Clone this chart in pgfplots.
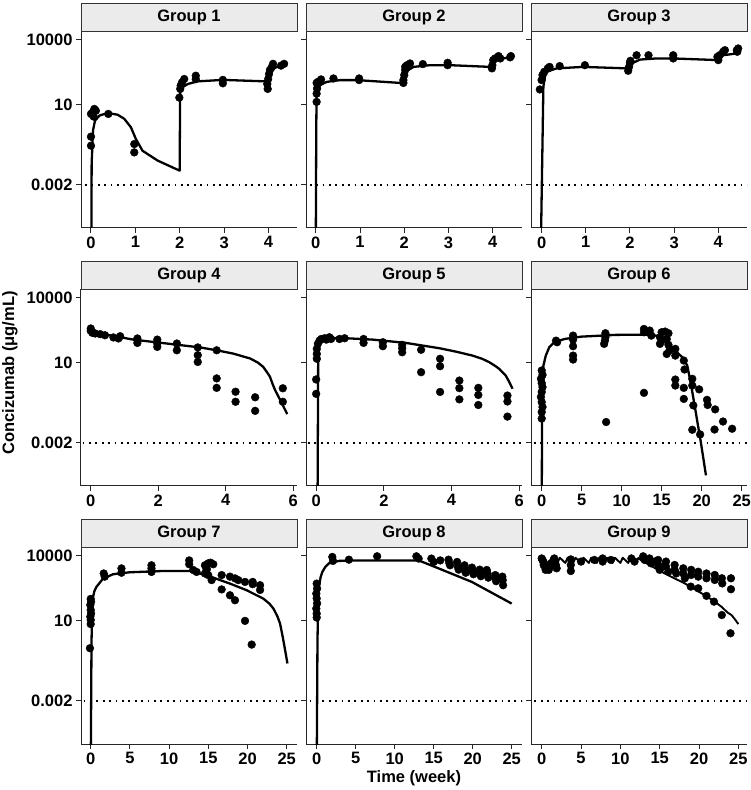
\documentclass[border=0pt]{standalone}
\usepackage{pgfplots}
\pgfplotsset{compat=1.18}
\usepackage{fontspec}
\setmainfont{Liberation Sans}
\definecolor{stripfill}{HTML}{EBEBEB}
\definecolor{stripline}{HTML}{333333}
\pgfplotsset{
  pts/.style={only marks, mark=*, mark size=3.9pt, mark options={draw=black, fill=black}},
  fitline/.style={black, line width=2.3pt, no marks, line join=round},
  lloq/.style={black, line width=1.8pt, dash pattern=on 1.8pt off 4.6pt, no marks},
}
\newcommand{\beginpanel}[1]{%
\begin{axis}[scale only axis, width=216pt, height=197pt, anchor=south west,
    ymode=log, ymin=2e-5, ymax=2.5e4,
    ytick={0.002,10,10000}, yticklabels={0.002,10,10000},
    yminorticks=false, xminorticks=false,
    axis x line*=bottom, axis y line*=left,
    axis line style={line width=1pt, black!85},
    tick align=outside, major tick length=5pt,
    tick style={line width=1pt, black!85},
    ticklabel style={font=\bfseries\fontsize{16.5}{16.5}\selectfont, text=black},
    /pgf/number format/assume math mode=true,
    #1]}
\newcommand{\strip}[2]{%
  \draw[fill=stripfill, draw=stripline, line width=0.8pt] (#1.north west) rectangle ([yshift=27.5pt]#1.north east);
  \node[font=\bfseries\fontsize{16.5}{16.5}\selectfont] at ([yshift=13.8pt]#1.north) {#2};
}
\begin{document}
\begin{tikzpicture}
\useasboundingbox (0,0) rectangle (750pt,790pt);
% ---------------- Group 1
\beginpanel{name=g1, at={(81pt,562pt)}, xmin=-0.225, xmax=4.64, xtick={0,1,2,3,4}}
\addplot[lloq] coordinates {(-1,0.002) (30,0.002)};
\addplot[pts] table {
x y
0 0.126
0 0.33
0 3.7
0.04 4.4
0.06 2.8
0.075 6.3
0.11 5.2
0.39 3.7
0.975 0.15
0.975 0.062
1.99 21
2.01 53
2.02 75
2.05 106
2.1 152
2.36 215
2.36 150
2.97 138
2.97 96
3.98 53
3.97 89
3.99 150
4.01 257
4.03 395
4.1 760
4.07 525
4.28 630
4.35 760
};
\addplot[fitline] table {
x y
0.01 1e-6
0.012 0.001
0.015 0.019
0.045 0.63
0.09 1.8
0.19 3.1
0.375 4.1
0.6 3.4
0.75 2.2
0.9 0.89
1.01 0.26
1.16 0.074
1.5 0.026
1.997 0.0089
2.008 40
2.06 63
2.18 89
2.40 118
2.97 138
3.94 118
3.96 181
4.02 310
4.13 490
4.28 630
4.39 760
};
\end{axis}
\strip{g1}{Group 1}
% ---------------- Group 2
\beginpanel{name=g2, at={(306pt,562pt)}, xmin=-0.22, xmax=4.66, xtick={0,1,2,3,4}, yticklabels={}}
\addplot[lloq] coordinates {(-1,0.002) (30,0.002)};
\addplot[pts] table {
x y
0.02 13.3
0.02 32
0.03 55
0.02 100
0.05 112
0.12 145
0.10 112
0.40 161
0.98 161
0.98 135
1.98 100
1.98 135
2.0 230
2.02 390
2.02 550
2.13 790
2.06 660
2.42 740
2.98 850
2.98 660
3.98 470
3.99 660
4.01 1130
4.05 1350
4.13 1730
4.17 1350
4.41 1730
4.39 1520
};
\addplot[fitline] table {
x y
0 1e-6
0.012 1
0.02 32
0.097 80
0.25 112
0.55 135
0.93 135
1.905 100
1.995 100
2.02 320
2.21 550
2.58 660
3.03 660
3.94 550
4.0 560
4.05 1130
4.24 1350
4.43 1600
};
\end{axis}
\strip{g2}{Group 2}
% ---------------- Group 3
\beginpanel{name=g3, at={(531pt,562pt)}, xmin=-0.24, xmax=4.65, xtick={0,1,2,3,4}, yticklabels={}}
\addplot[lloq] coordinates {(-1,0.002) (30,0.002)};
\addplot[pts] table {
x y
-0.04 50
0.0 135
0.02 230
0.06 325
0.14 470
0.18 550
0.41 600
0.98 660
1.96 365
1.98 550
2.0 850
2.01 1050
2.15 1900
2.42 1900
2.98 1900
2.98 1350
4.0 1130
3.98 1600
4.03 1900
4.11 2750
4.15 3250
4.42 3250
4.43 2750
4.45 3900
};
\addplot[fitline] table {
x y
-0.02 1e-6
0.04 66
0.075 190
0.11 325
0.34 470
0.94 550
1.93 470
2.04 790
2.23 1200
2.6 1350
2.98 1350
4.0 1130
4.11 1900
4.42 2300
};
\end{axis}
\strip{g3}{Group 3}
% ---------------- Group 4
\beginpanel{name=g4, at={(81pt,304pt)}, xmin=-0.29, xmax=6.11, xtick={0,2,4,6}}
\addplot[lloq] coordinates {(-1,0.002) (30,0.002)};
\addplot[pts] table {
x y
0 375
0 290
0.05 235
0.13 220
0.28 205
0.42 183
0.67 145
0.82 130
0.87 165
1.38 130
1.38 81
1.97 115
1.97 76
1.97 53
2.55 76
2.55 37
3.17 50
3.17 22
3.17 10.7
3.73 37
3.73 1.86
3.73 0.68
4.29 0.45
4.29 0.155
4.87 0.25
4.87 0.059
5.69 0.65
5.69 0.155
};
\addplot[fitline] table {
x y
0 375
0.28 220
1.26 115
2.25 76
3.24 50
3.73 37
4.22 26
4.72 15.5
4.95 10
5.11 6.3
5.22 3.6
5.31 2.2
5.39 1.0
5.46 0.54
5.61 0.19
5.82 0.042
};
\end{axis}
\strip{g4}{Group 4}
% ---------------- Group 5
\beginpanel{name=g5, at={(306pt,304pt)}, xmin=-0.3, xmax=6.08, xtick={0,2,4,6}, yticklabels={}}
\addplot[lloq] coordinates {(-1,0.002) (30,0.002)};
\addplot[pts] table {
x y
0 0.36
0 1.66
0.02 15
0.02 25
0.02 43
0.05 73
0.1 103
0.15 123
0.25 133
0.3 115
0.39 148
0.44 123
0.69 123
0.84 133
1.40 123
1.40 81
1.97 87
1.97 57
2.54 66
2.54 46
2.54 30
3.10 39
3.10 3.6
3.66 15
3.66 6.8
3.66 0.44
4.23 1.48
4.23 0.66
4.23 0.2
4.79 0.68
4.79 0.32
4.79 0.11
5.65 0.30
5.65 0.16
5.65 0.032
};
\addplot[fitline] table {
x y
0.04 1e-6
0.06 20
0.09 61
0.2 123
0.69 138
1.67 115
2.65 81
3.64 46
4.13 32
4.62 21
4.9 15
5.11 10.5
5.3 6.8
5.41 5.1
5.5 3.6
5.6 2.5
5.7 1.3
5.8 0.62
};
\end{axis}
\strip{g5}{Group 5}
% ---------------- Group 6
\beginpanel{name=g6, at={(531pt,304pt)}, xmin=-1.34, xmax=25.66, xtick={0,5,10,15,20,25}, yticklabels={}}
\addplot[lloq] coordinates {(-5,0.002) (30,0.002)};
\addplot[pts] table {
x y
0 4.3
0.1 2.7
-0.1 1.78
0 1.12
0.1 0.74
0 0.44
-0.1 0.26
0 0.15
0.1 0.089
0 0.052
0 0.026
1.79 103
1.92 87
3.92 176
3.92 115
3.92 57
3.92 21
3.92 13.8
7.96 227
7.96 148
7.9 103
7.8 73
8.05 0.018
12.78 357
12.78 252
13.07 270
13.5 300
13.7 176
12.78 0.40
14.78 148
14.99 252
15.42 270
15.84 227
14.78 73
14.99 103
15.63 123
15.84 66
15.97 36
15.63 25
16.7 43
16.7 21
17.76 12.4
17.85 4.8
16.7 1.65
16.7 0.87
17.76 0.68
17.76 0.21
18.82 1.78
18.82 0.87
19.68 0.58
18.95 0.105
18.82 0.0079
19.8 0.0048
20.66 0.19
20.74 0.11
21.68 0.069
21.6 0.0081
22.66 0.019
23.8 0.0088
};
\addplot[fitline] table {
x y
0 1e-6
0.05 0.62
0.21 7.3
0.51 21
0.94 51
1.58 87
2.85 123
4.98 158
9.24 190
13.5 196
14.3 175
14.78 148
15.6 90
16.48 43
17.0 28
17.55 17.7
17.9 11
18.19 7.3
18.61 1.26
19.04 0.15
19.46 0.018
19.89 0.0021
20.53 6.2e-5
};
\end{axis}
\strip{g6}{Group 6}
% ---------------- Group 7
\beginpanel{name=g7, at={(81pt,46pt)}, xmin=-1.24, xmax=26.31, xtick={0,5,10,15,20,25}}
\addplot[lloq] coordinates {(-5,0.002) (30,0.002)};
\addplot[pts] table {
x y
0 100
0.05 74
-0.05 53
0 31
0.05 21
-0.05 15
0 10.7
0 6.9
-0.1 0.53
1.66 1500
1.79 1070
3.92 2570
3.92 1620
7.75 3580
7.75 2570
7.75 1760
12.56 6000
12.56 4000
13.07 2170
13.5 1760
14.57 3580
14.78 2570
14.99 4400
15.29 4700
15.63 4000
14.57 1500
14.99 1260
15.42 740
14.78 2170
16.7 1260
16.7 275
17.76 1070
17.76 148
18.4 890
18.4 87
18.82 740
19.68 610
19.68 9.7
20.66 610
20.66 480
20.53 0.78
21.6 430
21.6 260
};
\addplot[fitline] table {
x y
0 1e-6
0.1 1
0.21 87
0.45 220
0.72 357
1.58 870
2.85 1380
4.98 1700
9.24 1950
12.65 1950
13.93 1500
15.63 960
17.76 510
19.89 252
22.02 103
22.8 60
23.3 36
23.8 16
24.15 7.3
24.49 1.78
24.79 0.44
25.09 0.105
};
\end{axis}
\strip{g7}{Group 7}
% ---------------- Group 8
\beginpanel{name=g8, at={(306pt,46pt)}, xmin=-1.37, xmax=26.32, xtick={0,5,10,15,20,25}, yticklabels={}}
\addplot[lloq] coordinates {(-5,0.002) (30,0.002)};
\addplot[pts] table {
x y
0 510
0.05 300
-0.05 176
0 105
0.05 62
-0.05 36
0 21
0 13.8
2.0 8700
2.09 5700
4.13 6500
7.75 9300
12.78 9300
13.07 7300
14.7 7300
15.0 5100
15.84 6000
16.9 6500
17.0 4600
17.1 3580
18.0 5100
18.1 3000
18.2 2250
18.95 3580
19.04 2250
19.1 1620
19.9 2800
20.0 1950
20.1 1380
20.9 2250
21.0 1620
21.05 1120
21.8 2170
21.9 1500
22.0 960
22.9 1260
22.95 870
23.0 660
23.8 1070
23.85 740
23.9 430
};
\addplot[fitline] table {
x y
0 1e-6
0.1 1
0.21 252
0.5 1000
0.72 1760
1.1 3000
1.58 4400
2.85 5700
4.98 6000
13.07 6000
15.63 2570
19.89 610
25.0 61
};
\end{axis}
\strip{g8}{Group 8}
% ---------------- Group 9
\beginpanel{name=g9, at={(531pt,46pt)}, xmin=-1.36, xmax=26.1, xtick={0,5,10,15,20,25}, yticklabels={}}
\addplot[lloq] coordinates {(-5,0.002) (30,0.002)};
\addplot[pts] table {
x y
0 7400
0.1 6300
0.2 5300
0.3 4400
0.25 3700
0.4 3100
0.6 2600
0.5 2200
0.9 2200
1.0 3100
1.2 4400
1.5 6300
1.6 7400
1.7 5300
1.8 3700
1.9 2600
3.7 6700
3.7 3700
3.7 1950
5.0 5300
6.7 6300
7.75 7400
7.75 5300
8.8 6300
11.4 7400
11.8 5300
12.9 9300
13.1 6300
13.7 7400
13.9 4400
14.35 5300
14.8 6300
14.8 3700
15.0 2200
15.4 3100
15.8 5300
15.8 3100
16.1 1800
16.9 3700
16.9 2200
17.1 1500
18.0 2600
18.0 1500
18.2 900
19.0 2200
19.0 1280
18.95 370
19.9 1800
19.9 1070
19.9 310
20.95 1500
20.95 900
20.95 138
22.0 1280
22.0 750
21.9 75
22.9 900
22.95 520
22.9 18
24.06 900
24.06 280
24.0 2.6
};
\addplot[fitline, line width=1.9pt] table {
x y
0 8000
0.5 5000
1.0 4400
1.3 8000
2.0 4600
2.3 8000
3.0 4600
3.3 8000
4.0 4600
4.3 8000
5.0 4600
5.3 8000
6.0 4600
6.3 8000
7.0 4600
7.3 8000
8.0 4600
8.3 8000
9.0 4600
9.3 8000
10.0 4600
10.3 8000
11.0 4600
11.3 8000
12.0 4800
12.3 8000
12.65 6000
15.63 1500
18.19 520
20.74 148
22.0 75
22.87 43
23.6 24
24.15 17.7
24.6 11
25.0 6.9
};
\end{axis}
\strip{g9}{Group 9}
% ---------------- titles
\node[rotate=90, font=\bfseries\fontsize{16.5}{16.5}\selectfont] at (10pt,417pt) {Concizumab (μg/mL)};
\node[font=\bfseries\fontsize{16.5}{16.5}\selectfont] at (414pt,12pt) {Time (week)};
\end{tikzpicture}
\end{document}
